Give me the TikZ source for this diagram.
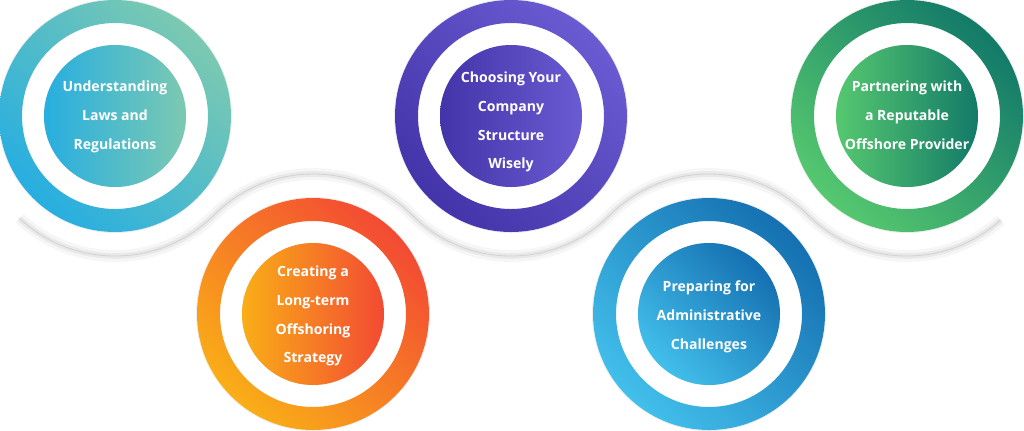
\documentclass[tikz,border=0pt]{standalone}
\usepackage{fontspec}
\setmainfont{Open Sans}
\definecolor{tealA}{HTML}{27AEE0}
\definecolor{tealB}{HTML}{7CC9B1}
\definecolor{purpA}{HTML}{4434A9}
\definecolor{purpB}{HTML}{6B5BD2}
\definecolor{greenA}{HTML}{56C86F}
\definecolor{greenB}{HTML}{137A69}
\definecolor{orangeA}{HTML}{F9AE17}
\definecolor{orangeB}{HTML}{F34A33}
\definecolor{blueA}{HTML}{42BFEB}
\definecolor{blueB}{HTML}{1570B1}
\tikzset{
	ring/.style={even odd rule, shading angle=135},
	ringshadow/.style={fill=black, opacity=0.07},
	discshadow/.style={fill=black, opacity=0.13},
	disc/.style={shape=circle, minimum size=35.5mm, inner sep=0pt},
	circletext/.style={anchor=center, align=center, text=white, font=\bfseries\fontsize{10}{20.5}\selectfont},
}
\begin{document}
\begin{tikzpicture}[x=0.25mm, y=-0.25mm]
	\useasboundingbox[fill=white] (0,0) rectangle (1024,430);
	% Centres of the five rings:
	\coordinate (c1) at (115,116);
	\coordinate (c2) at (511,116);
	\coordinate (c3) at (907,116);
	\coordinate (c4) at (313,314);
	\coordinate (c5) at (709,314);
	% Wave behind the rings:
	\draw[line width=3mm, black, opacity=0.035, shift={(0,6)}] (c1) ++(133:140) arc (133:45:140) arc (225:315:140) arc (135:45:140) arc (225:315:140) arc (135:48:140);
	\draw[line width=1.4mm, black, opacity=0.05, shift={(0,3)}] (c1) ++(133:140) arc (133:45:140) arc (225:315:140) arc (135:45:140) arc (225:315:140) arc (135:48:140);
	\draw[line width=0.6pt, gray!35] (c1) ++(133:140) arc (133:45:140) arc (225:315:140) arc (135:45:140) arc (225:315:140) arc (135:48:140);
	% Rings:
	\foreach \c/\ca/\cb in {c1/tealA/tealB, c2/purpA/purpB, c3/greenA/greenB, c4/orangeA/orangeB, c5/blueA/blueB} {
		\fill[ringshadow, shift={(0,5)}] (\c) circle[radius=117];
		\fill[white] (\c) circle[radius=116];
		\shade[left color=\ca, right color=\cb, ring] (\c) circle[radius=116] circle[radius=93];
		\fill[discshadow, shift={(3,5)}] (\c) circle[radius=71];
	}
	% Inner discs and their texts:
	\node[disc, left color=tealA, right color=tealB] (laws) at (c1){} node[circletext] (laws-text) at (115,117){Understanding\\Laws and\\Regulations};
	\node[disc, left color=purpA, right color=purpB] (structure) at (c2){} node[circletext] (structure-text) at (511,122){Choosing Your\\Company\\Structure\\Wisely};
	\node[disc, left color=greenA, right color=greenB] (partner) at (c3){} node[circletext] (partner-text) at (907,115){Partnering with\\a Reputable\\Offshore Provider};
	\node[disc, left color=orangeA, right color=orangeB] (strategy) at (c4){} node[circletext] (strategy-text) at (313,316){Creating a\\Long-term\\Offshoring\\Strategy};
	\node[disc, left color=blueA, right color=blueB, shading angle=135] (admin) at (c5){} node[circletext] (admin-text) at (709,317){Preparing for\\Administrative\\Challenges};
\end{tikzpicture}
\end{document}
